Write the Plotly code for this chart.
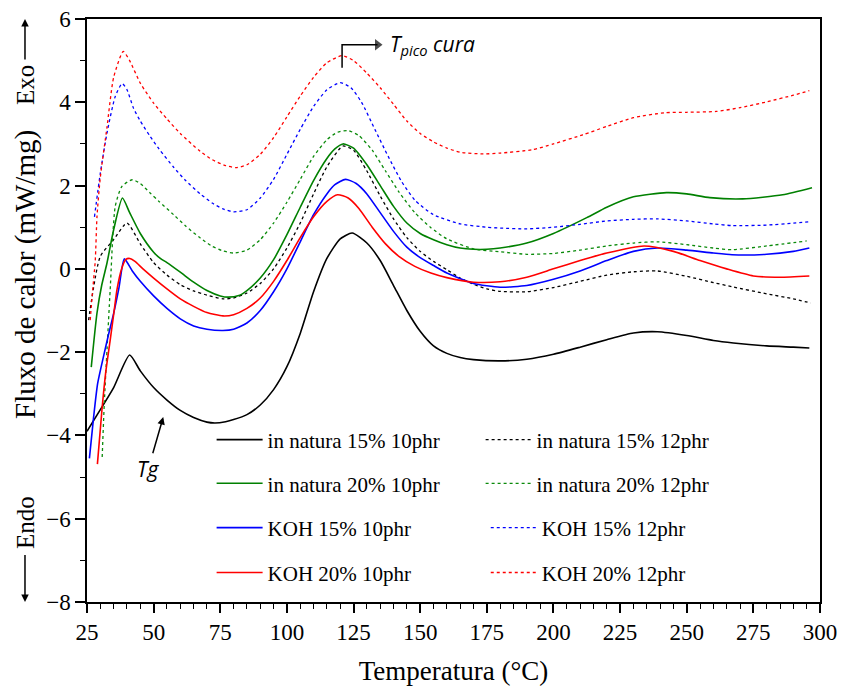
import plotly.graph_objects as go

# ---------------- data ----------------
x_nat15_10 = [25, 30, 35, 41, 45, 50, 55, 60, 65, 70, 73, 77, 80, 85, 90, 95, 100, 105, 110, 115, 120, 124.5, 130, 135, 140, 145, 150, 155, 160, 165, 170, 180, 190, 200, 210, 220, 230, 239, 250, 260, 267.5, 280, 290, 296]
y_nat15_10 = [-3.90, -3.38, -2.85, -2.07, -2.45, -2.85, -3.15, -3.40, -3.57, -3.68, -3.70, -3.67, -3.62, -3.50, -3.27, -2.90, -2.35, -1.55, -0.55, 0.25, 0.72, 0.86, 0.62, 0.20, -0.40, -1.00, -1.50, -1.85, -2.03, -2.13, -2.18, -2.21, -2.17, -2.05, -1.88, -1.70, -1.54, -1.51, -1.60, -1.72, -1.78, -1.85, -1.88, -1.90]

x_nat15_12 = [25.6, 30, 35, 40, 45, 50, 55, 60, 65, 70, 76, 80, 85, 90, 95, 100, 105, 110, 115, 121, 125, 130, 135, 140, 145, 150, 155, 160, 165, 170, 175, 180, 190, 200, 210, 220, 230, 239, 250, 260, 267, 280, 290, 296.5]
y_nat15_12 = [-1.23, 0.30, 0.70, 1.10, 0.60, 0.15, -0.15, -0.38, -0.53, -0.63, -0.72, -0.70, -0.58, -0.35, 0.00, 0.50, 1.10, 1.80, 2.45, 2.95, 2.85, 2.35, 1.75, 1.20, 0.75, 0.42, 0.18, -0.02, -0.22, -0.37, -0.48, -0.54, -0.55, -0.45, -0.30, -0.15, -0.07, -0.05, -0.18, -0.33, -0.43, -0.60, -0.72, -0.82]

x_nat20_10 = [26.6, 28.75, 30.5, 32.5, 35, 38.3, 41, 45, 50, 52.5, 55, 60, 65, 70, 75, 78, 82, 85, 90, 95, 100, 105, 110, 115, 118, 121, 125, 130, 135, 140, 145, 150, 155, 160, 165, 170, 175, 180, 190, 200, 212.5, 220, 230, 242.4, 250, 258.7, 271, 286, 297]
y_nat20_10 = [-2.36, -1.06, -0.40, 0.14, 0.94, 1.70, 1.35, 0.85, 0.40, 0.25, 0.15, -0.08, -0.32, -0.52, -0.65, -0.68, -0.64, -0.52, -0.22, 0.22, 0.82, 1.48, 2.12, 2.65, 2.88, 3.00, 2.90, 2.50, 2.00, 1.50, 1.10, 0.85, 0.70, 0.58, 0.50, 0.47, 0.47, 0.50, 0.62, 0.85, 1.23, 1.48, 1.73, 1.83, 1.80, 1.71, 1.68, 1.78, 1.95]

x_nat20_12 = [30.7, 31.5, 32.5, 33.7, 35.6, 38.1, 42, 45, 48.7, 52, 57.5, 62, 67.5, 72, 76, 80, 85, 90, 95, 100, 105, 110, 115, 119, 123, 127, 132, 137, 142, 148, 153.8, 160, 170, 180, 190, 200, 210, 220, 230, 239, 250, 260, 267, 280, 295]
y_nat20_12 = [-4.52, -3.20, -1.95, -0.50, 1.50, 1.98, 2.14, 2.05, 1.82, 1.62, 1.30, 1.03, 0.74, 0.54, 0.43, 0.38, 0.45, 0.70, 1.10, 1.60, 2.15, 2.70, 3.10, 3.28, 3.32, 3.20, 2.85, 2.35, 1.85, 1.35, 1.00, 0.72, 0.48, 0.41, 0.35, 0.37, 0.45, 0.55, 0.62, 0.65, 0.58, 0.50, 0.46, 0.55, 0.67]

x_koh15_10 = [25.9, 27.5, 29, 31.2, 33, 35, 37, 39, 42, 45, 50, 55, 60, 65, 70, 76, 80, 85, 90, 95, 100, 105, 110, 115, 118, 122, 126, 130, 135, 140, 145, 150, 155, 160, 170, 180, 190, 200, 210, 220, 230, 239, 250, 260, 267, 280, 290, 296]
y_koh15_10 = [-4.55, -3.55, -2.75, -2.10, -1.60, -1.07, -0.45, 0.24, -0.05, -0.30, -0.65, -0.95, -1.20, -1.37, -1.45, -1.48, -1.45, -1.30, -1.00, -0.55, 0.00, 0.65, 1.30, 1.80, 2.02, 2.15, 2.05, 1.80, 1.35, 0.90, 0.52, 0.27, 0.08, -0.10, -0.35, -0.44, -0.40, -0.25, -0.05, 0.20, 0.42, 0.50, 0.45, 0.38, 0.34, 0.35, 0.42, 0.50]

x_koh15_12 = [27.8, 30, 32.5, 35.6, 38.2, 40, 42.5, 45, 48.7, 52, 57.5, 62, 67.5, 72, 76, 80, 85, 90, 95, 100, 105, 110, 115, 120, 124, 128, 133, 138, 143, 148, 155, 165, 175, 180, 190, 200, 210, 220, 230, 239, 250, 260, 267, 280, 290, 296]
y_koh15_12 = [1.25, 2.30, 3.26, 4.14, 4.45, 4.30, 3.85, 3.55, 3.18, 2.88, 2.44, 2.12, 1.80, 1.58, 1.44, 1.37, 1.42, 1.70, 2.15, 2.75, 3.35, 3.90, 4.30, 4.47, 4.35, 4.00, 3.35, 2.70, 2.10, 1.65, 1.30, 1.08, 1.00, 0.98, 0.96, 1.00, 1.07, 1.15, 1.19, 1.20, 1.15, 1.08, 1.04, 1.05, 1.10, 1.13]

x_koh20_10 = [28.9, 30.6, 32, 33.7, 35, 36.25, 38, 39.5, 41, 43, 46, 50, 55, 60, 65, 70, 76, 80, 85, 90, 95, 100, 105, 110, 115, 119, 123, 127, 132, 137, 142, 148, 154, 160, 170, 180, 190, 200, 210, 220, 234, 245, 255, 265, 275, 285, 296]
y_koh20_10 = [-4.69, -3.39, -2.50, -1.71, -1.10, -0.50, 0.00, 0.22, 0.25, 0.18, 0.00, -0.22, -0.48, -0.72, -0.90, -1.05, -1.13, -1.10, -0.95, -0.70, -0.30, 0.20, 0.75, 1.25, 1.62, 1.78, 1.70, 1.45, 1.00, 0.60, 0.30, 0.06, -0.10, -0.21, -0.32, -0.31, -0.20, 0.00, 0.20, 0.38, 0.55, 0.42, 0.20, 0.00, -0.17, -0.20, -0.17]

x_koh20_12 = [26.2, 27, 28.1, 28.75, 30, 32.5, 35, 38.6, 41, 45, 50, 55, 60, 67.5, 72, 77, 81, 85, 90, 95, 100, 105, 110, 115, 120.7, 125, 130, 135, 140, 145, 150, 155, 160, 165, 173.7, 180, 192, 200, 211, 220, 230, 242, 250, 261, 270, 280, 290, 296]
y_koh20_12 = [-1.23, -0.60, 0.20, 1.26, 2.20, 3.40, 4.60, 5.22, 5.00, 4.46, 3.98, 3.60, 3.25, 2.82, 2.62, 2.48, 2.43, 2.50, 2.75, 3.15, 3.65, 4.15, 4.60, 4.95, 5.12, 5.00, 4.70, 4.35, 3.95, 3.55, 3.25, 3.05, 2.90, 2.80, 2.76, 2.78, 2.86, 3.00, 3.22, 3.42, 3.63, 3.75, 3.76, 3.78, 3.87, 4.01, 4.17, 4.28]

series_names = ["in natura 15% 10phr", "in natura 15% 12phr",
                "in natura 20% 10phr", "in natura 20% 12phr",
                "KOH 15% 10phr", "KOH 15% 12phr",
                "KOH 20% 10phr", "KOH 20% 12phr"]
series_x = [x_nat15_10, x_nat15_12, x_nat20_10, x_nat20_12,
            x_koh15_10, x_koh15_12, x_koh20_10, x_koh20_12]
series_y = [y_nat15_10, y_nat15_12, y_nat20_10, y_nat20_12,
            y_koh15_10, y_koh15_12, y_koh20_10, y_koh20_12]

x_ticks = [25, 50, 75, 100, 125, 150, 175, 200, 225, 250, 275, 300]
y_ticks = [-8, -6, -4, -2, 0, 2, 4, 6]

# T pico cura pointer (bent arrow), in data units
tpico_x = [120.7, 120.7, 134.0]
tpico_y = [4.83, 5.38, 5.38]

# ---------------- styles ----------------
colors = ["#000000", "#000000", "#008000", "#0a8a0a",
          "#0000ff", "#0000ff", "#ff0000", "#ff0000"]
dashes = ["solid", "3px,3px"] * 4
widths = [1.6, 1.3] * 4

leg_pos = [(0.170, 0.278), (0.537, 0.278),
           (0.170, 0.203), (0.537, 0.203),
           (0.170, 0.127), (0.544, 0.127),
           (0.170, 0.050), (0.544, 0.050)]

SERIF = "Liberation Serif, Times New Roman, Times, serif"
SANS = "Open Sans, DejaVu Sans, sans-serif"

fig = go.Figure()
for i in range(8):
    lid = "legend" if i == 0 else f"legend{i+1}"
    fig.add_trace(go.Scatter(
        x=series_x[i], y=series_y[i], mode="lines", name=series_names[i],
        line=dict(color=colors[i], width=widths[i], dash=dashes[i],
                  shape="spline", smoothing=0.6),
        legend=lid, hoverinfo="skip"))

# bent pointer to the cure peak
fig.add_trace(go.Scatter(
    x=tpico_x, y=tpico_y, mode="lines+markers", showlegend=False, hoverinfo="skip",
    line=dict(color="black", width=1.5),
    marker=dict(symbol="triangle-right", size=[0, 0, 10], color="black",
                line=dict(width=0))))

layout_legends = {}
for i in range(8):
    lid = "legend" if i == 0 else f"legend{i+1}"
    layout_legends[lid] = dict(
        x=leg_pos[i][0], y=leg_pos[i][1], xanchor="left", yanchor="middle",
        bgcolor="rgba(0,0,0,0)", borderwidth=0, itemwidth=46,
        font=dict(family=SERIF, size=21, color="black"))

fig.update_layout(
    width=845, height=687,
    margin=dict(l=87, r=25, t=19, b=85, autoexpand=False),
    plot_bgcolor="white", paper_bgcolor="white",
    font=dict(family=SERIF, color="black"),
    showlegend=True,
    **layout_legends,
)

fig.update_xaxes(
    range=[25, 300], tickmode="array", tickvals=x_ticks, automargin=False,
    ticks="outside", ticklen=9, tickwidth=1.5, tickcolor="black",
    minor=dict(dtick=5, tick0=25, ticks="outside", ticklen=5, tickwidth=1.2, tickcolor="black"),
    showline=True, linecolor="black", linewidth=1.5, mirror=True,
    showgrid=False, zeroline=False,
    tickfont=dict(family=SERIF, size=23, color="black"),
    title=dict(text="Temperatura (°C)", font=dict(family=SERIF, size=27, color="black"), standoff=17),
)
fig.update_yaxes(
    range=[-8, 6], tickmode="array", tickvals=y_ticks, automargin=False,
    ticks="outside", ticklen=10, tickwidth=1.5, tickcolor="black",
    minor=dict(dtick=1, tick0=0, ticks="outside", ticklen=5, tickwidth=1.2, tickcolor="black"),
    showline=True, linecolor="black", linewidth=1.5, mirror=True,
    showgrid=False, zeroline=False,
    tickfont=dict(family=SERIF, size=23, color="black"),
    title=None,
)

# y-axis title
fig.add_annotation(xref="paper", yref="paper", x=-0.0846, y=0.5626,
                   xanchor="center", yanchor="middle",
                   text="Fluxo de calor (mW/mg)", textangle=-90, showarrow=False,
                   font=dict(family=SERIF, size=29, color="black"))
# Exo with arrow pointing up (head at top of plot)
fig.add_annotation(xref="paper", yref="paper", x=-0.0846, y=1.0,
                   ax=0, ay=66, axref="pixel", ayref="pixel",
                   text="Exo", textangle=-90, showarrow=True, arrowhead=2,
                   arrowsize=1, arrowwidth=1.5, arrowcolor="black",
                   standoff=0, borderpad=5,
                   font=dict(family=SERIF, size=25, color="black"))
# Endo with arrow pointing down (head at bottom of plot)
fig.add_annotation(xref="paper", yref="paper", x=-0.0846, y=0.0,
                   ax=0, ay=-80, axref="pixel", ayref="pixel",
                   text="Endo", textangle=-90, showarrow=True, arrowhead=2,
                   arrowsize=1, arrowwidth=1.5, arrowcolor="black",
                   standoff=0, borderpad=6,
                   font=dict(family=SERIF, size=25, color="black"))

# Tg annotation
fig.add_annotation(x=53.6, y=-3.56, ax=48.0, ay=-4.80, axref="x", ayref="y",
                   text="<i>Tg</i>", showarrow=True, arrowhead=2, arrowsize=1,
                   arrowwidth=1.5, arrowcolor="black", standoff=0,
                   font=dict(family=SANS, size=21, color="black"))

# T pico cura label
fig.add_annotation(x=138.0, y=5.38, xanchor="left", yanchor="middle",
                   text="<i>T<sub>pico</sub> cura</i>", showarrow=False,
                   font=dict(family=SANS, size=21, color="black"))

fig.write_html("out.html")
